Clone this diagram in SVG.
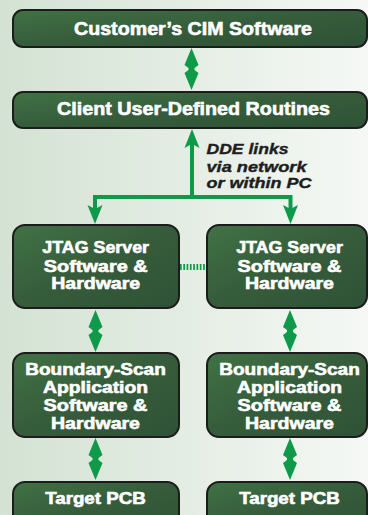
<svg xmlns="http://www.w3.org/2000/svg" xmlns:xlink="http://www.w3.org/1999/xlink" width="368" height="515" viewBox="0 0 368 515">
<defs>
<linearGradient id="bg" x1="0" y1="0" x2="1" y2="0">
<stop offset="0" stop-color="#d3e2d3"/>
<stop offset="1" stop-color="#f5f8f5"/>
</linearGradient>
<linearGradient id="boxfill" x1="0" y1="0" x2="1" y2="1">
<stop offset="0" stop-color="#407244"/>
<stop offset="0.5" stop-color="#365c3b"/>
<stop offset="1" stop-color="#2f5236"/>
</linearGradient>
<polygon id="dbl" points="0,0 7,17 3,20 3,22 7,25 0,42 -7,25 -3,22 -3,20 -7,17"/>
<style>
.box{fill:url(#boxfill);stroke:#1c1c1c;stroke-width:2}
.t{font-family:"Liberation Sans",Arial,sans-serif;font-weight:bold;fill:#ffffff;stroke:#ffffff;stroke-width:0.6;text-anchor:middle}
.tt{font-size:18.5px}
.tc{font-size:16.3px}
.dde{font-family:"Liberation Sans",Arial,sans-serif;font-weight:bold;font-style:italic;font-size:15.5px;fill:#1e1e1e;stroke:#1e1e1e;stroke-width:0.4}
.g{fill:#0e9a48}
.gl{stroke:#0e9a48;stroke-width:4;fill:none}
</style>
</defs>
<rect x="0" y="0" width="368" height="515" fill="url(#bg)"/>

<g id="connectors">
<use xlink:href="#dbl" class="g" transform="translate(191.5,48)"/>
<line class="gl" x1="192" y1="140" x2="192" y2="197"/>
<polygon class="g" points="192,129 199.5,148 192,144 184.5,148"/>
<polyline class="gl" points="95,212 95,197 290.5,197 290.5,212"/>
<polygon class="g" points="95,224 87.5,205 95,209 102.5,205"/>
<polygon class="g" points="290.5,224 283,205 290.5,209 298,205"/>
<line x1="180" y1="267" x2="206" y2="267" stroke="#0e9a48" stroke-width="6" stroke-dasharray="1.7 1.6"/>
<use xlink:href="#dbl" class="g" transform="translate(95.5,310)"/>
<use xlink:href="#dbl" class="g" transform="translate(290,310)"/>
<use xlink:href="#dbl" class="g" transform="translate(95.5,438)"/>
<use xlink:href="#dbl" class="g" transform="translate(290,438)"/>
</g>

<g id="dde-label">
<text class="dde" x="206.5" y="154.3" textLength="82" lengthAdjust="spacingAndGlyphs">DDE links</text>
<text class="dde" x="206.5" y="171.7" textLength="100" lengthAdjust="spacingAndGlyphs">via network</text>
<text class="dde" x="206.5" y="188.3" textLength="105" lengthAdjust="spacingAndGlyphs">or within PC</text>
</g>

<g id="cim">
<rect class="box" x="13" y="10" width="354" height="37" rx="10"/>
<text class="t tt" x="193" y="35" textLength="238" lengthAdjust="spacingAndGlyphs">Customer’s CIM Software</text>
</g>

<g id="client">
<rect class="box" x="13" y="92" width="354" height="36" rx="10"/>
<text class="t tt" x="193.5" y="115" textLength="273" lengthAdjust="spacingAndGlyphs">Client User-Defined Routines</text>
</g>

<g id="jtag-left">
<rect class="box" x="13" y="225" width="166" height="83" rx="12"/>
<text class="t tc" x="95.7" y="253.3" textLength="106.7" lengthAdjust="spacingAndGlyphs">JTAG Server</text>
<text class="t tc" x="95.7" y="271.7" textLength="104" lengthAdjust="spacingAndGlyphs">Software &amp;</text>
<text class="t tc" x="95.7" y="289.3" textLength="89" lengthAdjust="spacingAndGlyphs">Hardware</text>
</g>

<g id="jtag-right">
<rect class="box" x="207" y="225" width="160" height="83" rx="12"/>
<text class="t tc" x="289.5" y="253.3" textLength="106.7" lengthAdjust="spacingAndGlyphs">JTAG Server</text>
<text class="t tc" x="289.5" y="271.7" textLength="104" lengthAdjust="spacingAndGlyphs">Software &amp;</text>
<text class="t tc" x="289.5" y="289.3" textLength="89" lengthAdjust="spacingAndGlyphs">Hardware</text>
</g>

<g id="bscan-left">
<rect class="box" x="13" y="353" width="166" height="84" rx="12"/>
<text class="t tc" x="95.5" y="375" textLength="140.7" lengthAdjust="spacingAndGlyphs">Boundary-Scan</text>
<text class="t tc" x="95.5" y="393.3" textLength="105" lengthAdjust="spacingAndGlyphs">Application</text>
<text class="t tc" x="95.5" y="411" textLength="104" lengthAdjust="spacingAndGlyphs">Software &amp;</text>
<text class="t tc" x="95.5" y="429" textLength="89" lengthAdjust="spacingAndGlyphs">Hardware</text>
</g>

<g id="bscan-right">
<rect class="box" x="207" y="353" width="160" height="84" rx="12"/>
<text class="t tc" x="289.5" y="375" textLength="140.7" lengthAdjust="spacingAndGlyphs">Boundary-Scan</text>
<text class="t tc" x="289.5" y="393.3" textLength="105" lengthAdjust="spacingAndGlyphs">Application</text>
<text class="t tc" x="289.5" y="411" textLength="104" lengthAdjust="spacingAndGlyphs">Software &amp;</text>
<text class="t tc" x="289.5" y="429" textLength="89" lengthAdjust="spacingAndGlyphs">Hardware</text>
</g>

<g id="pcb-left">
<rect class="box" x="13" y="482" width="166" height="50" rx="12"/>
<text class="t tc" x="95.5" y="504.3" textLength="100.7" lengthAdjust="spacingAndGlyphs">Target PCB</text>
</g>

<g id="pcb-right">
<rect class="box" x="207" y="482" width="160" height="50" rx="12"/>
<text class="t tc" x="289.5" y="504.3" textLength="100.7" lengthAdjust="spacingAndGlyphs">Target PCB</text>
</g>
</svg>
